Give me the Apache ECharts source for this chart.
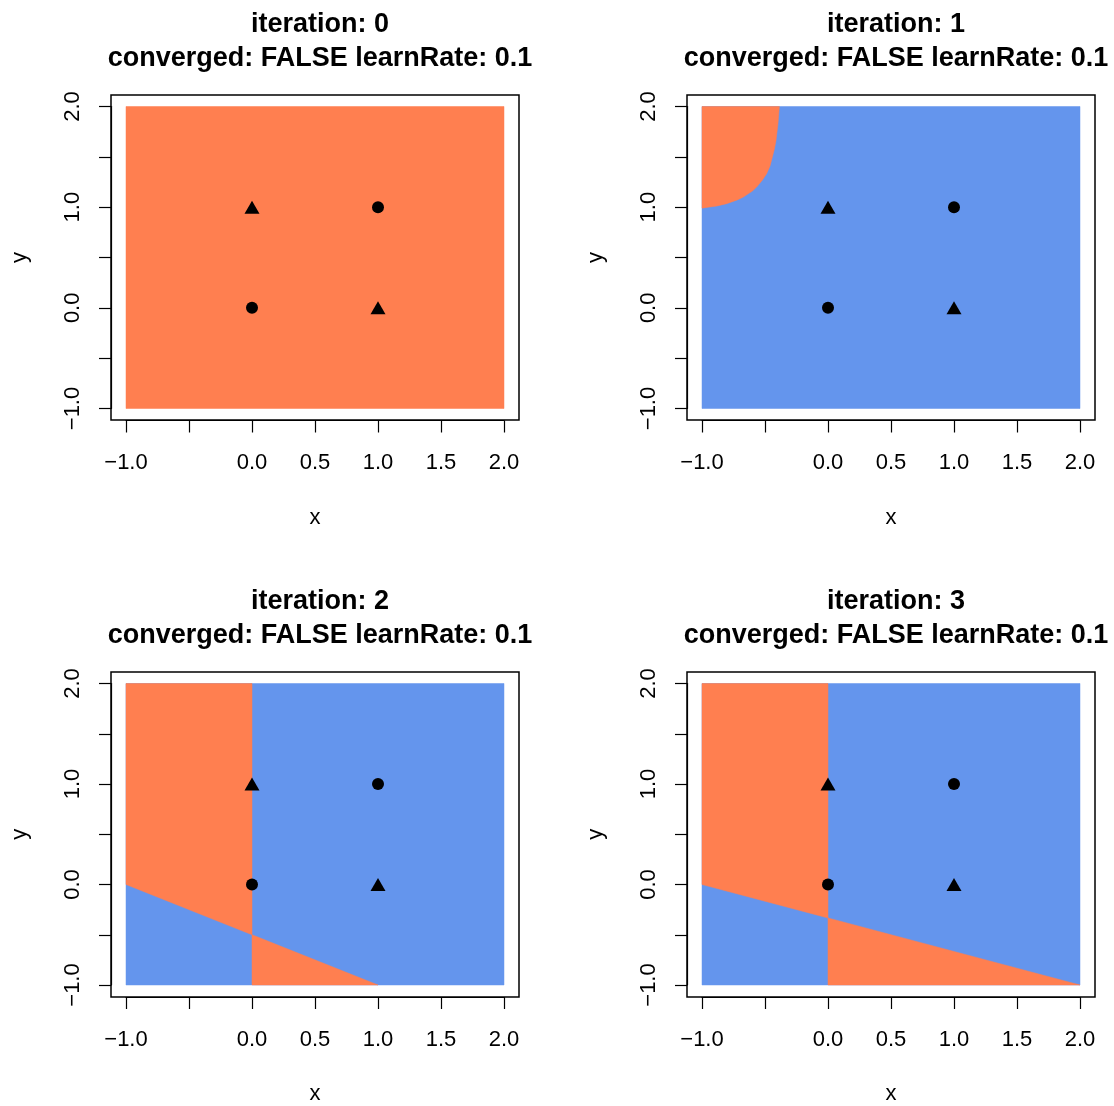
<!DOCTYPE html>
<html>
<head>
<meta charset="utf-8">
<script src="https://cdn.jsdelivr.net/npm/echarts@6/dist/echarts.min.js"></script>
<style>
html,body{margin:0;padding:0;background:#fff;}
#chart{width:1114px;height:1106px;}
</style>
</head>
<body>
<div id="chart"></div>
<script>
// ---- data ----
const iterations = [0, 1, 2, 3];
const convergedFlags = ['FALSE', 'FALSE', 'FALSE', 'FALSE'];
const learnRates = ['0.1', '0.1', '0.1', '0.1'];

const circleX = [0, 1];
const circleY = [0, 1];
const triangleX = [0, 1];
const triangleY = [1, 0];

const axisMin = -1;
const axisMax = 2;
const tickStep = 0.5;
const xTickLabels = [-1, 0, 0.5, 1, 1.5, 2];
const yTickLabels = [-1, 0, 1, 2];

// prediction area (whole grid of the classifier)
const domainBox = [[-1, -1], [2, -1], [2, 2], [-1, 2]];
// background class per panel
const backgroundClass = ['orange', 'blue', 'blue', 'blue'];
// regions predicted as the orange class, per iteration
const orangeRegions0 = [];
const orangeRegions1 = [
  [[-1, 2], [-1, 0.99], [-0.95, 1.0], [-0.88, 1.012], [-0.804, 1.035], [-0.72, 1.072],
   [-0.672, 1.1], [-0.6, 1.16], [-0.566, 1.2], [-0.52, 1.27], [-0.487, 1.333],
   [-0.46, 1.41], [-0.442, 1.496], [-0.425, 1.58], [-0.413, 1.66], [-0.397, 1.827], [-0.386, 2]]
];
const orangeRegions2 = [
  [[-1, 2], [0, 2], [0, -0.5], [-1, 0]],
  [[0, -0.5], [1, -1], [0, -1]]
];
const orangeRegions3 = [
  [[-1, 2], [0, 2], [0, -0.333], [-1, 0]],
  [[0, -0.333], [2, -1], [0, -1]]
];
const orangeRegions = [orangeRegions0, orangeRegions1, orangeRegions2, orangeRegions3];

// ---- styling ----
const ORANGE = '#FF7F50';
const BLUE = '#6495ED';
const FONT = '"Liberation Sans", Arial, Helvetica, sans-serif';
const fmt = v => (v < 0 ? '\u2212' : '') + Math.abs(v).toFixed(1);
const near = (arr, v) => arr.some(a => Math.abs(a - v) < 1e-9);

const chart = echarts.init(document.getElementById('chart'), null, {renderer: 'canvas'});

const grids = [], xAxes = [], yAxes = [], series = [], titles = [];
for (let i = 0; i < 4; i++) {
  const c = i % 2, r = Math.floor(i / 2);
  const boxLeft = 111 + 576 * c, boxTop = 95 + 577 * r;
  // outer box (R plot frame)
  grids.push({left: boxLeft, top: boxTop, width: 408, height: 325, show: true,
    borderColor: '#000', borderWidth: 1.5, backgroundColor: 'transparent'});
  // inner data region
  grids.push({left: boxLeft + 15, top: boxTop + 11.5, width: 378, height: 302, show: false});
  const gOuter = 2 * i, gInner = 2 * i + 1;

  titles.push({
    text: 'iteration: ' + iterations[i] + '\nconverged: ' + convergedFlags[i] + ' learnRate: ' + learnRates[i],
    left: boxLeft + 204, top: 3 + 577 * r, textAlign: 'center',
    textStyle: {fontFamily: FONT, fontWeight: 'bold', fontSize: 27, lineHeight: 34, color: '#000'}
  });

  xAxes.push({gridIndex: gOuter, type: 'value', min: 0, max: 1, show: false});
  yAxes.push({gridIndex: gOuter, type: 'value', min: 0, max: 1, show: false});

  const common = {
    gridIndex: gInner, type: 'value', min: axisMin, max: axisMax, interval: tickStep,
    axisLine: {show: true, onZero: false, lineStyle: {color: '#000', width: 1.2}},
    splitLine: {show: false},
    nameLocation: 'middle',
    nameTextStyle: {fontFamily: FONT, fontSize: 22, color: '#000'}
  };
  xAxes.push(Object.assign({}, common, {
    position: 'bottom', offset: 12, name: 'x', nameGap: 86,
    axisTick: {show: true, inside: false, length: 12, lineStyle: {color: '#000', width: 1.2}},
    axisLabel: {show: true, margin: 31.5, formatter: v => near(xTickLabels, v) ? fmt(v) : '',
      fontFamily: FONT, fontSize: 22, color: '#000', showMinLabel: true, showMaxLabel: true, hideOverlap: false}
  }));
  yAxes.push(Object.assign({}, common, {
    position: 'left', offset: 15, name: 'y', nameGap: 80, nameRotate: 90,
    axisTick: {show: true, inside: false, length: 12, lineStyle: {color: '#000', width: 1.2}},
    axisLabel: {show: true, margin: 27.5, rotate: 90, formatter: v => near(yTickLabels, v) ? fmt(v) : '',
      fontFamily: FONT, fontSize: 22, color: '#000', showMinLabel: true, showMaxLabel: true, hideOverlap: false}
  }));

  const axIdx = 2 * i + 1;
  const polys = [{pts: domainBox, color: backgroundClass[i] === 'orange' ? ORANGE : BLUE}]
    .concat(orangeRegions[i].map(p => ({pts: p, color: ORANGE})));
  series.push({
    type: 'custom', xAxisIndex: axIdx, yAxisIndex: axIdx, silent: true, clip: false,
    data: polys.map(p => [p.pts[0][0], p.pts[0][1]]),
    renderItem: (params, api) => {
      const p = polys[params.dataIndex];
      return {type: 'polygon', shape: {points: p.pts.map(q => api.coord(q))},
        style: {fill: p.color, stroke: p.color, lineWidth: 0.5}};
    },
    z: 1
  });
  series.push({
    type: 'scatter', xAxisIndex: axIdx, yAxisIndex: axIdx, silent: true,
    symbol: 'circle', symbolSize: 12, itemStyle: {color: '#000', opacity: 1},
    data: circleX.map((x, k) => [x, circleY[k]]), z: 5
  });
  series.push({
    type: 'scatter', xAxisIndex: axIdx, yAxisIndex: axIdx, silent: true,
    symbol: 'triangle', symbolSize: [15, 13], itemStyle: {color: '#000', opacity: 1},
    data: triangleX.map((x, k) => [x, triangleY[k]]), z: 5
  });
}

chart.setOption({
  animation: false,
  backgroundColor: '#fff',
  title: titles,
  grid: grids,
  xAxis: xAxes,
  yAxis: yAxes,
  series: series
});
</script>
</body>
</html>
